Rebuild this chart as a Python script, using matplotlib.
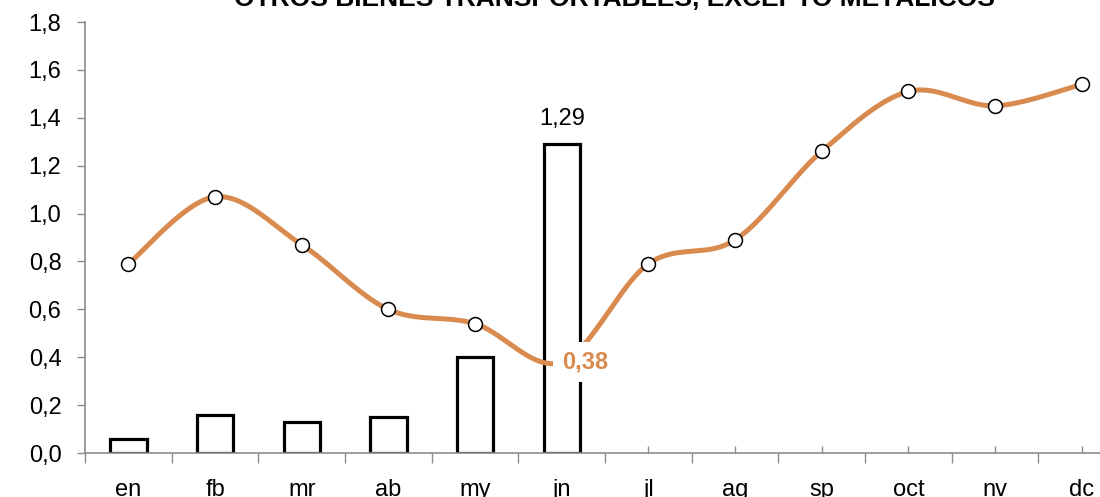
import numpy as np
import matplotlib
matplotlib.use('Agg')
import matplotlib.pyplot as plt
from matplotlib.ticker import FixedLocator, NullFormatter

# ---- data ----
months = ['en', 'fb', 'mr', 'ab', 'my', 'jn', 'jl', 'ag', 'sp', 'oct', 'nv', 'dc']
bar_values = [0.06, 0.16, 0.13, 0.15, 0.40, 1.29]
line_values = [0.79, 1.07, 0.87, 0.60, 0.54, 0.38, 0.79, 0.89, 1.26, 1.51, 1.45, 1.54]
yticks = [0.0, 0.2, 0.4, 0.6, 0.8, 1.0, 1.2, 1.4, 1.6, 1.8]
ytick_labels = ['0,0', '0,2', '0,4', '0,6', '0,8', '1,0', '1,2', '1,4', '1,6', '1,8']
title = 'OTROS BIENES TRANSPORTABLES, EXCEPTO METÁLICOS'
bar_label = '1,29'
line_label = '0,38'

plt.rcParams['font.family'] = ['Liberation Sans', 'DejaVu Sans']

ORANGE = '#D98B4F'
GRAY = '#8C8C8C'


def smooth(xs, ys, n=40):
    pts = np.column_stack([xs, ys]).astype(float)
    P = np.vstack([pts[0], pts, pts[-1]])
    out = []
    for i in range(1, len(P) - 2):
        p0, p1, p2, p3 = P[i - 1], P[i], P[i + 1], P[i + 2]
        t = np.linspace(0, 1, n, endpoint=False)[:, None]
        seg = 0.5 * ((2 * p1) + (-p0 + p2) * t + (2 * p0 - 5 * p1 + 4 * p2 - p3) * t ** 2
                     + (-p0 + 3 * p1 - 3 * p2 + p3) * t ** 3)
        out.append(seg)
    out.append(pts[-1][None, :])
    return np.vstack(out)


fig = plt.figure(figsize=(11, 4.97), dpi=100)
ax = fig.add_axes([0.0773, 0.0885, 0.9455, 0.8672])

x = np.arange(len(months))
xb = np.arange(len(bar_values))

ax.bar(xb, bar_values, width=0.42, color='white', edgecolor='black', linewidth=2.3, zorder=2)

curve = smooth(x, line_values)
ax.plot(curve[:, 0], curve[:, 1], color=ORANGE, linewidth=3.6, zorder=3, solid_capstyle='round')
ax.plot(x, line_values, linestyle='none', marker='o', markersize=10,
        markerfacecolor='white', markeredgecolor='black', markeredgewidth=1.1, zorder=4)

# data labels
ax.annotate(bar_label, (xb[-1], bar_values[-1]), xytext=(0, 10), textcoords='offset points',
            ha='center', va='bottom', fontsize=17, color='black', zorder=5)
ax.annotate(line_label, (5, line_values[5]), xytext=(0, 0), textcoords='offset points',
            ha='left', va='center', fontsize=17, fontweight='bold', color=ORANGE, zorder=6,
            bbox=dict(boxstyle='square,pad=0.35', facecolor='white', edgecolor='none'))

ax.set_xlim(-0.5, len(months) - 0.5)
ax.set_ylim(0, 1.8)

ax.set_yticks(yticks)
ax.set_yticklabels(ytick_labels)
ax.tick_params(axis='y', direction='out', length=6, width=1, color=GRAY, pad=11, labelsize=17)

ax.xaxis.set_major_locator(FixedLocator(np.arange(-0.5, len(months), 1.0)))
ax.xaxis.set_major_formatter(NullFormatter())
ax.xaxis.set_minor_locator(FixedLocator(x))
ax.set_xticklabels(months, minor=True)
ax.tick_params(axis='x', which='major', direction='out', length=7, width=1, color=GRAY)
ax.tick_params(axis='x', which='minor', direction='in', length=5, width=1, color=GRAY,
               pad=19, labelsize=17)

for s in ['top', 'right']:
    ax.spines[s].set_visible(False)
for s in ['left', 'bottom']:
    ax.spines[s].set_color(GRAY)
    ax.spines[s].set_linewidth(1.2)

fig.text(0.559, 0.988, title, ha='center', va='baseline', fontsize=19, fontweight='bold')

fig.savefig('out.png', dpi=100)
